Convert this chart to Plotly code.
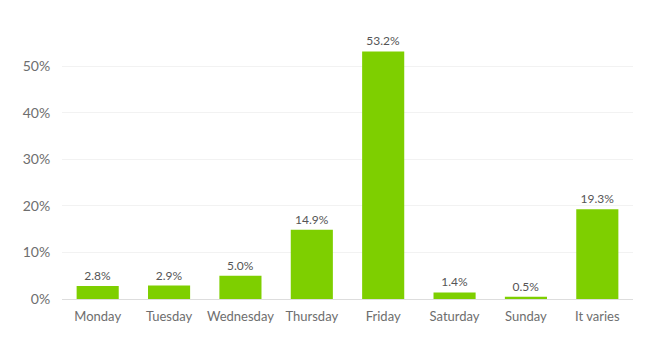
import plotly.graph_objects as go

days = ["Monday", "Tuesday", "Wednesday", "Thursday", "Friday", "Saturday", "Sunday", "It varies"]
values = [2.8, 2.9, 5.0, 14.9, 53.2, 1.4, 0.5, 19.3]
labels = [f"{v:.1f}%" for v in values]

fig = go.Figure(go.Bar(
    x=days, y=values, text=labels, textposition="outside",
    textfont=dict(family="Lato", size=12, color="#555555"),
    marker=dict(color="#7ecf00", line=dict(width=0)),
    width=0.59, cliponaxis=False,
))
fig.update_layout(
    width=650, height=344,
    margin=dict(l=62, r=17, t=43, b=45),
    paper_bgcolor="white", plot_bgcolor="white",
    showlegend=False,
    font=dict(family="Lato", color="#6e6e6e", size=13),
    xaxis=dict(showline=True, linecolor="#dddddd", linewidth=1,
               ticks="outside", ticklen=5, tickcolor="rgba(0,0,0,0)",
               tickfont=dict(size=13, color="#6e6e6e")),
    yaxis=dict(range=[0, 55], tickvals=[0, 10, 20, 30, 40, 50],
               ticktext=["0%", "10%", "20%", "30%", "40%", "50%"],
               gridcolor="#f2f2f2", zeroline=False,
               ticks="outside", ticklen=8, tickcolor="rgba(0,0,0,0)",
               tickfont=dict(size=14, color="#6e6e6e")),
)
fig.write_html("out.html")
